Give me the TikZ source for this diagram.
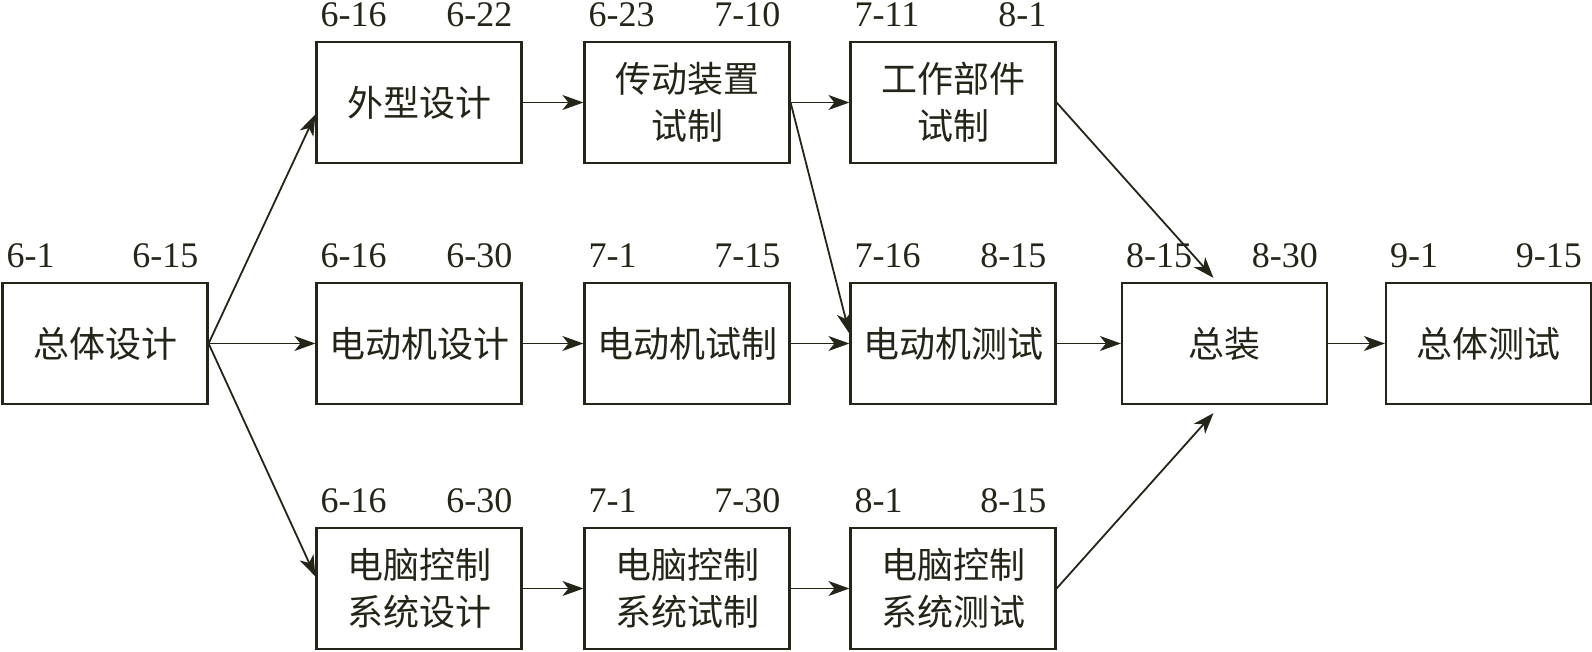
\documentclass[tikz,border=0pt]{standalone}
\usepackage{fontspec}
\setmainfont{Liberation Serif}
\newfontfamily\cjk{Noto Sans CJK SC}
\usetikzlibrary{arrows.meta}
\definecolor{ink}{RGB}{36,36,24}
\begin{document}
\begin{tikzpicture}[x=1pt,y=-1pt,
  box/.style={draw=ink, line width=2.2pt, minimum width=205pt, minimum height=121pt, inner sep=0pt,
    align=center, font=\fontsize{36}{47}\selectfont\cjk, text=ink},
  lab/.style={font=\fontsize{36}{40}\selectfont, text=ink, inner sep=0pt},
  arr/.style={draw=ink, line width=1.8pt, -{Stealth[length=21pt,width=15pt,inset=6pt]}}]
\useasboundingbox (0,0) rectangle (1592,652);
% nodes
\node[box] (zt) at (105,343.5) {总体设计};
\node[box] (wx) at (419,102.5) {外型设计};
\node[box] (cd) at (687,102.5) {传动装置\\试制};
\node[box] (gz) at (953,102.5) {工作部件\\试制};
\node[box] (ds) at (419,343.5) {电动机设计};
\node[box] (dz) at (687,343.5) {电动机试制};
\node[box] (dc) at (953,343.5) {电动机测试};
\node[box] (zz) at (1224.5,343.5) {总装};
\node[box] (tc) at (1488.5,343.5) {总体测试};
\node[box] (n1) at (419,588.5) {电脑控制\\系统设计};
\node[box] (n2) at (687,588.5) {电脑控制\\系统试制};
\node[box] (n3) at (953,588.5) {电脑控制\\系统测试};
% labels
\foreach \b/\l/\r in {zt/6-1/6-15, wx/6-16/6-22, cd/6-23/7-10, gz/7-11/8-1,
  ds/6-16/6-30, dz/7-1/7-15, dc/7-16/8-15, zz/8-15/8-30, tc/9-1/9-15,
  n1/6-16/6-30, n2/7-1/7-30, n3/8-1/8-15}{
  \node[lab, anchor=base west] (\b L) at ([xshift=5pt,yshift=14pt]\b.north west) {\l};
  \node[lab, anchor=base east] (\b R) at ([xshift=-10pt,yshift=14pt]\b.north east) {\r};
}
% connectors
\draw[arr] (zt.east) -- ([yshift=-12pt]wx.west);
\draw[arr] (zt.east) -- (ds.west);
\draw[arr] (zt.east) -- ([yshift=12pt]n1.west);
\draw[arr] (wx.east) -- (cd.west);
\draw[arr] (cd.east) -- (gz.west);
\draw[arr] (cd.east) -- ([yshift=10pt]dc.west);
\draw[arr] (ds.east) -- (dz.west);
\draw[arr] (dz.east) -- (dc.west);
\draw[arr] (n1.east) -- (n2.west);
\draw[arr] (n2.east) -- (n3.west);
\draw[arr] (gz.east) -- ([xshift=-11pt,yshift=4pt]zz.north);
\draw[arr] (dc.east) -- (zz.west);
\draw[arr] (n3.east) -- ([xshift=-11pt,yshift=-8pt]zz.south);
\draw[arr] (zz.east) -- (tc.west);
\end{tikzpicture}
\end{document}
